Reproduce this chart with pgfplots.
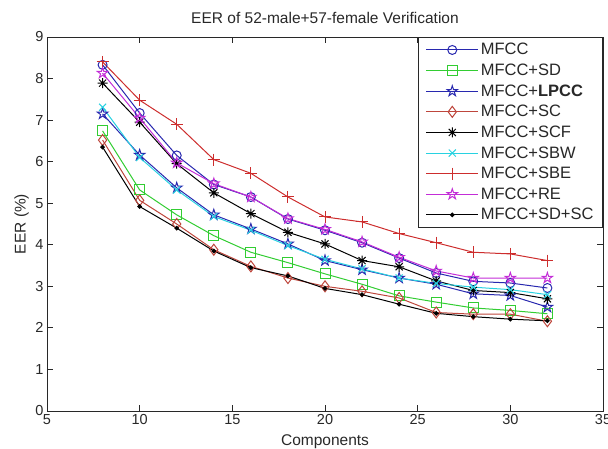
\documentclass[border=0pt]{standalone}
\usepackage{pgfplots}
\pgfplotsset{compat=1.18}
\usepackage{fontspec}
\setmainfont{Liberation Sans}
\usetikzlibrary{plotmarks}

\definecolor{mblue}{RGB}{40,40,175}
\definecolor{mgreen}{RGB}{50,205,50}
\definecolor{msc}{RGB}{190,70,60}
\definecolor{msbe}{RGB}{205,45,45}
\definecolor{mcyan}{RGB}{40,210,225}
\definecolor{mmag}{RGB}{195,45,215}
\definecolor{axgray}{RGB}{40,40,40}

\pgfdeclareplotmark{pentagram}{%
  \pgfpathmoveto{\pgfpointpolar{90}{\pgfplotmarksize}}%
  \pgfpathlineto{\pgfpointpolar{126}{0.382\pgfplotmarksize}}%
  \pgfpathlineto{\pgfpointpolar{162}{\pgfplotmarksize}}%
  \pgfpathlineto{\pgfpointpolar{198}{0.382\pgfplotmarksize}}%
  \pgfpathlineto{\pgfpointpolar{234}{\pgfplotmarksize}}%
  \pgfpathlineto{\pgfpointpolar{270}{0.382\pgfplotmarksize}}%
  \pgfpathlineto{\pgfpointpolar{306}{\pgfplotmarksize}}%
  \pgfpathlineto{\pgfpointpolar{342}{0.382\pgfplotmarksize}}%
  \pgfpathlineto{\pgfpointpolar{18}{\pgfplotmarksize}}%
  \pgfpathlineto{\pgfpointpolar{54}{0.382\pgfplotmarksize}}%
  \pgfpathclose
  \pgfusepathqstroke
}
\pgfdeclareplotmark{mstar}{%
  \pgfpathmoveto{\pgfqpoint{-\pgfplotmarksize}{0pt}}%
  \pgfpathlineto{\pgfqpoint{\pgfplotmarksize}{0pt}}%
  \pgfpathmoveto{\pgfqpoint{0pt}{-\pgfplotmarksize}}%
  \pgfpathlineto{\pgfqpoint{0pt}{\pgfplotmarksize}}%
  \pgfpathmoveto{\pgfpointpolar{45}{\pgfplotmarksize}}%
  \pgfpathlineto{\pgfpointpolar{225}{\pgfplotmarksize}}%
  \pgfpathmoveto{\pgfpointpolar{135}{\pgfplotmarksize}}%
  \pgfpathlineto{\pgfpointpolar{315}{\pgfplotmarksize}}%
  \pgfusepathqstroke
}

\pgfplotstableread{
x  mfcc sd   lpcc sc   scf  sbw  sbe  re   sdsc
8  8.33 6.74 7.15 6.52 7.89 7.31 8.40 8.13 6.35
10 7.17 5.32 6.16 5.07 6.95 6.10 7.48 7.05 4.92
12 6.15 4.72 5.37 4.50 5.95 5.32 6.90 5.97 4.40
14 5.45 4.22 4.72 3.88 5.25 4.68 6.05 5.47 3.85
16 5.15 3.82 4.38 3.48 4.75 4.35 5.72 5.15 3.45
18 4.62 3.57 4.02 3.20 4.30 3.98 5.15 4.63 3.25
20 4.35 3.30 3.62 3.00 4.02 3.65 4.67 4.37 2.95
22 4.05 3.05 3.40 2.88 3.62 3.42 4.55 4.07 2.80
24 3.68 2.77 3.20 2.72 3.47 3.20 4.27 3.70 2.57
26 3.32 2.62 3.05 2.37 3.13 3.07 4.05 3.37 2.35
28 3.12 2.48 2.82 2.33 2.90 2.98 3.82 3.20 2.27
30 3.08 2.42 2.78 2.33 2.85 2.92 3.78 3.20 2.21
32 2.96 2.34 2.50 2.16 2.70 2.80 3.62 3.20 2.17
}\datatable

\begin{document}
\begin{tikzpicture}
\begin{axis}[
  at={(0,0)}, anchor=south west,
  scale only axis, width=556pt, height=374pt,
  xmin=5, xmax=35, ymin=0, ymax=9,
  xtick={5,10,...,35}, ytick={0,1,...,9},
  tick align=inside, tick pos=both, major tick length=6pt,
  axis line style={axgray, line width=0.9pt},
  every tick/.style={axgray, line width=0.9pt},
  /pgf/number format/assume math mode=true,
  tick label style={font=\fontsize{14.5}{17}\selectfont, text=axgray},
  title={EER of 52-male+57-female Verification},
  title style={at={(axis description cs:0.5,1.019)}, anchor=base, font=\fontsize{15.5}{18}\selectfont, text=axgray},
  xlabel={Components},
  xlabel style={at={(axis description cs:0.5,-0.0922)}, anchor=base, font=\fontsize{15.5}{18}\selectfont, text=axgray},
  ylabel={EER (\%)},
  ylabel style={at={(axis description cs:-0.0383,0.5)}, anchor=base, rotate=0, font=\fontsize{15.5}{18}\selectfont, text=axgray},
  every axis plot/.append style={line width=1pt},
  legend style={at={(1,1)}, anchor=north east, draw=axgray, line width=0.9pt,
    font=\fontsize{16.5}{19}\selectfont, text=axgray, row sep=3.6pt, inner xsep=7pt, inner ysep=4pt},
  legend cell align=left,
  legend image code/.code={\draw[mark repeat=2,mark phase=2,#1] plot coordinates {(0pt,0pt) (26pt,0pt) (52pt,0pt)};},
]
\addplot[mblue, mark=o, mark size=4.5pt] table[x=x,y=mfcc]{\datatable};
\addlegendentry{MFCC}
\addplot[mgreen, mark=square, mark size=5pt] table[x=x,y=sd]{\datatable};
\addlegendentry{MFCC+SD}
\addplot[mblue, mark=pentagram, mark size=5.5pt] table[x=x,y=lpcc]{\datatable};
\addlegendentry{MFCC+\textbf{LPCC}}
\addplot[msc, mark=diamond, mark size=5.5pt] table[x=x,y=sc]{\datatable};
\addlegendentry{MFCC+SC}
\addplot[black, mark=mstar, mark size=5pt] table[x=x,y=scf]{\datatable};
\addlegendentry{MFCC+SCF}
\addplot[mcyan, mark=x, mark size=5pt] table[x=x,y=sbw]{\datatable};
\addlegendentry{MFCC+SBW}
\addplot[msbe, mark=+, mark size=6pt] table[x=x,y=sbe]{\datatable};
\addlegendentry{MFCC+SBE}
\addplot[mmag, mark=pentagram, mark size=5.5pt] table[x=x,y=re]{\datatable};
\addlegendentry{MFCC+RE}
\addplot[black, mark=*, mark size=1.8pt] table[x=x,y=sdsc]{\datatable};
\addlegendentry{MFCC+SD+SC}
\end{axis}
\pgfresetboundingbox
\path[use as bounding box] (-47pt,-38pt) rectangle (561pt,411pt);
\end{tikzpicture}
\end{document}
